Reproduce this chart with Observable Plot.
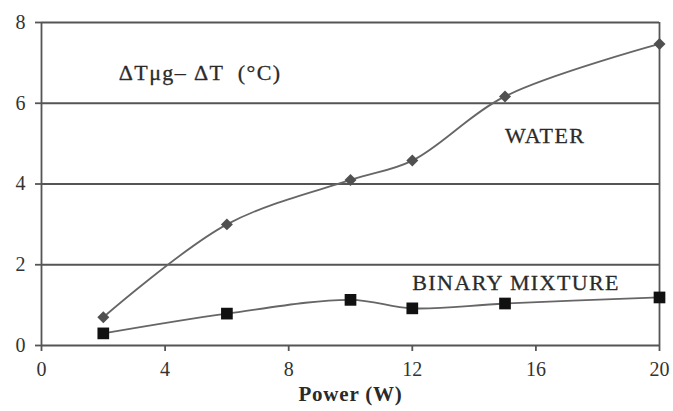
<!DOCTYPE html>
<html>
<head>
<meta charset="utf-8">
<script src="https://cdn.jsdelivr.net/npm/d3@7"></script>
<script src="https://cdn.jsdelivr.net/npm/@observablehq/plot@0.6"></script>
<style>
  html, body { margin: 0; padding: 0; background: #fff; }
  svg text { font-family: "Liberation Serif", "Times New Roman", serif; }
</style>
</head>
<body>
<div id="chart"></div>
<script>
const power = [2, 6, 10, 12, 15, 20];
const water = [0.7, 3.0, 4.1, 4.58, 6.17, 7.47];
const binary = [0.3, 0.79, 1.13, 0.92, 1.04, 1.19];
const xTicks = [0, 4, 8, 12, 16, 20];
const yTicks = [0, 2, 4, 6, 8];
const xLabel = "Power (W)";
const annoText = ["ΔTμg\u2013 ΔT  (°C)", "WATER", "BINARY MIXTURE"];
const annoX = [2.5, 15.0, 12.0];
const annoY = [6.76, 5.2, 1.56];

const waterData = power.map((p, i) => ({x: p, y: water[i]}));
const binaryData = power.map((p, i) => ({x: p, y: binary[i]}));
const annos = annoText.map((t, i) => ({text: t, x: annoX[i], y: annoY[i]}));

const serif = "Liberation Serif";

const chart = Plot.plot({
  width: 673,
  height: 411,
  marginLeft: 41,
  marginRight: 14,
  marginTop: 22,
  marginBottom: 66,
  style: {fontFamily: serif, background: "#fff", color: "#2a2a2a"},
  x: {domain: [0, 20]},
  y: {domain: [0, 8]},
  marks: [
    Plot.ruleY(yTicks, {stroke: "#555", strokeWidth: 1.8}),
    Plot.ruleX([0, 20], {stroke: "#555", strokeWidth: 1.8}),
    Plot.axisY({ticks: yTicks, tickSize: 6, tickPadding: 10, fontSize: 20, fontFamily: serif, label: null, stroke: "#555", strokeWidth: 1.8, fill: "#333"}),
    Plot.axisX({ticks: xTicks, tickSize: 6, tickPadding: 10, fontSize: 20, fontFamily: serif, label: null, stroke: "#555", strokeWidth: 1.8, fill: "#333"}),
    Plot.line(waterData, {x: "x", y: "y", stroke: "#666", strokeWidth: 1.8, curve: "catmull-rom"}),
    Plot.line(binaryData, {x: "x", y: "y", stroke: "#666", strokeWidth: 1.8, curve: "catmull-rom"}),
    Plot.dot(waterData, {x: "x", y: "y", symbol: "diamond2", r: 5.4, fill: "#505050", stroke: "none"}),
    Plot.dot(binaryData, {x: "x", y: "y", symbol: "square", r: 6.6, fill: "#111", stroke: "none"}),
    Plot.text(annos, {x: "x", y: "y", text: "text", textAnchor: "start", fontSize: 22, fontFamily: serif, fill: "#2a2a2a", stroke: "#2a2a2a", strokeWidth: 0.3}),
    Plot.text([xLabel], {frameAnchor: "bottom", dy: 55, fontSize: 21, fontFamily: serif, fontWeight: "bold", fill: "#2a2a2a"})
  ]
});
d3.select(chart).selectAll("text").each(function() {
  const t = this.textContent;
  if (annoText.includes(t)) this.setAttribute("letter-spacing", "1.4");
  else if (t === xLabel) this.setAttribute("letter-spacing", "0.8");
});
document.getElementById("chart").appendChild(chart);
</script>
</body>
</html>
